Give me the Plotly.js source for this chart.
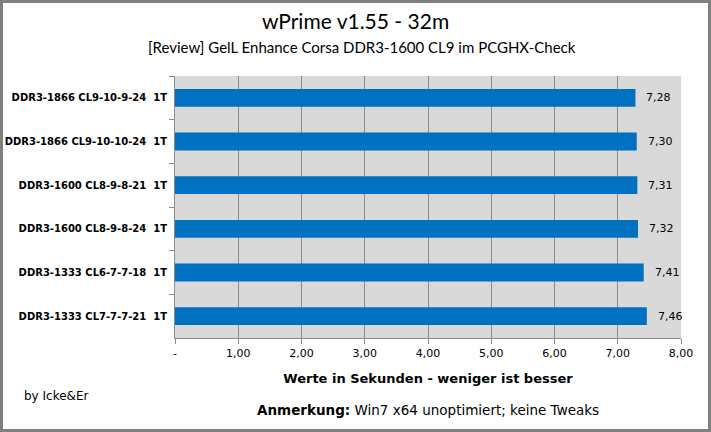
<!DOCTYPE html>
<html><head><meta charset="utf-8">
<script src="https://cdn.plot.ly/plotly-3.0.1.min.js"></script>
<style>
html,body{margin:0;padding:0;background:#fff;}
#wrap{position:relative;width:711px;height:432px;}
#chart{width:711px;height:432px;}
#frame{position:absolute;left:0;top:0;width:711px;height:432px;box-sizing:border-box;border:3px solid #808080;pointer-events:none;}
</style>
</head><body>
<div id="wrap"><div id="chart"></div><div id="frame"></div></div>
<script>
const categories = [
  "DDR3-1866 CL9-10-9-24\u00a0\u00a01T",
  "DDR3-1866 CL9-10-10-24\u00a0\u00a01T",
  "DDR3-1600 CL8-9-8-21\u00a0\u00a01T",
  "DDR3-1600 CL8-9-8-24\u00a0\u00a01T",
  "DDR3-1333 CL6-7-7-18\u00a0\u00a01T",
  "DDR3-1333 CL7-7-7-21\u00a0\u00a01T"
];
const values = [7.28, 7.30, 7.31, 7.32, 7.41, 7.46];
const valueLabels = ["7,28", "7,30", "7,31", "7,32", "7,41", "7,46"];
const xTickVals = [0, 1, 2, 3, 4, 5, 6, 7, 8];
const xTickText = ["-", "1,00", "2,00", "3,00", "4,00", "5,00", "6,00", "7,00", "8,00"];

const labelFont = "Tahoma, 'DejaVu Sans', sans-serif";
const titleFont = "'Lato', 'Open Sans', sans-serif";

const L = 175, R = 30, T = 76, B = 94, W = 711, H = 432;
const pw = W - L - R, ph = H - T - B;

const trace = {
  type: "bar",
  orientation: "h",
  y: categories,
  x: values,
  marker: {color: "#0070C0"},
  hoverinfo: "skip"
};

const valueAnn = values.map((v, i) => ({
  xref: "x", yref: "y", x: v, y: categories[i],
  xanchor: "left", yanchor: "middle", xshift: 9,
  text: valueLabels[i], showarrow: false,
  font: {family: labelFont, size: 11, color: "#000"}
}));

const layout = {
  width: W, height: H,
  margin: {l: L, r: R, t: T, b: B},
  paper_bgcolor: "#ffffff",
  plot_bgcolor: "#d9d9d9",
  showlegend: false,
  bargap: 0.59,
  xaxis: {
    range: [0, 8],
    tickvals: xTickVals,
    ticktext: xTickText,
    tickfont: {family: labelFont, size: 11, color: "#000"},
    showgrid: true, gridcolor: "#8c8c8c", gridwidth: 1,
    zeroline: false,
    showline: true, linecolor: "#8c8c8c", linewidth: 1,
    ticks: "outside", ticklen: 5, tickcolor: "#8c8c8c",
    fixedrange: true,
    title: {
      text: "<b>Werte in Sekunden - weniger ist besser</b>",
      font: {family: labelFont, size: 13, color: "#000"},
      standoff: 14
    }
  },
  yaxis: {
    autorange: "reversed",
    tickfont: {family: labelFont, size: 10, color: "#000", weight: "bold"},
    showline: true, linecolor: "#8c8c8c", linewidth: 1,
    ticks: "outside", ticklen: 5, tickcolor: "#8c8c8c",
    tickson: "boundaries",
    showgrid: false,
    ticklabelstandoff: 5,
    fixedrange: true
  },
  annotations: [
    {xref: "paper", yref: "paper", x: (355 - L) / pw, y: (H - B - 20) / ph, yanchor: "middle", xanchor: "center",
     text: "wPrime v1.55 - 32m", showarrow: false,
     font: {family: titleFont, size: 21, color: "#000"}},
    {xref: "paper", yref: "paper", x: (362 - L) / pw, y: (H - B - 47) / ph, yanchor: "middle", xanchor: "center",
     text: "[Review] GelL Enhance Corsa DDR3-1600 CL9 im PCGHX-Check", showarrow: false,
     font: {family: titleFont, size: 15, color: "#000"}},
    {xref: "paper", yref: "paper", x: (22 - L) / pw, y: -(396 - (H - B)) / ph, xanchor: "left", yanchor: "middle",
     text: "by Icke&amp;Er", showarrow: false,
     font: {family: labelFont, size: 12, color: "#000"}},
    {xref: "paper", yref: "paper", x: (428 - L) / pw, y: -(410 - (H - B)) / ph, xanchor: "center", yanchor: "middle",
     text: "<b>Anmerkung:</b> Win7 x64 unoptimiert; keine Tweaks", showarrow: false,
     font: {family: labelFont, size: 13.5, color: "#000"}}
  ].concat(valueAnn)
};

Plotly.newPlot("chart", [trace], layout, {displayModeBar: false, staticPlot: true});
</script>
</body></html>
